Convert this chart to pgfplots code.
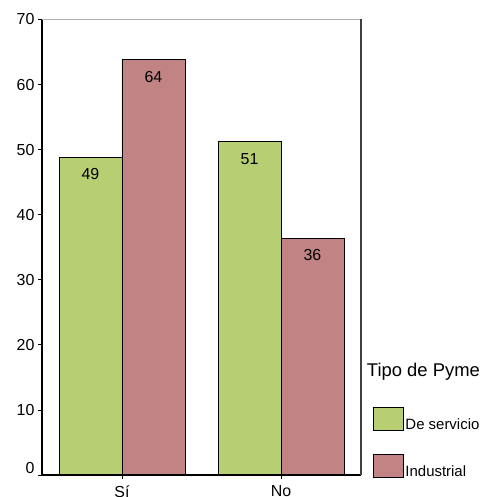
\documentclass[border=0pt]{standalone}
\usepackage{pgfplots}
\pgfplotsset{compat=1.18}
\usepackage{fontspec}
\setmainfont{Liberation Sans}
\definecolor{grn}{RGB}{184,206,115}
\definecolor{rd}{RGB}{193,131,131}
\begin{document}
\begin{tikzpicture}
\begin{axis}[
  scale only axis, width=319bp, height=455.5bp,
  at={(0,0)}, anchor=south west,
  xmin=-0.503, xmax=1.503, ymin=0, ymax=70,
  ybar=0pt, bar width=0.396,
  xtick={0,1}, xticklabels={Sí,No},
  ytick={10,20,...,70},
  extra y ticks={0}, extra y tick style={yticklabel style={yshift=7bp}},
  /pgf/number format/assume math mode=true,
  tick label style={font=\fontsize{16}{19}\selectfont, black},
  xticklabel style={yshift=-3bp},
  tick align=outside, tick pos=left, major tick length=4bp,
  tick style={black, line width=0.8bp},
  axis line style={draw=none},
  clip=false,
  point meta=explicit symbolic,
  nodes near coords,
  every node near coord/.append style={anchor=center, yshift=-17bp, font=\fontsize{16}{19}\selectfont, black},
  legend image code/.code={\draw[#1] (0bp,-5.5bp) rectangle (30bp,17.5bp);},
  legend style={at={(rel axis cs:1.0376,0.1493)}, anchor=north west, draw=none, fill=none,
    font=\fontsize{15}{18}\selectfont, row sep=23bp, inner sep=0pt,
    nodes={inner xsep=1.5bp, inner ysep=0pt}},
  legend cell align=left,
]
\addplot[fill=grn, draw=black, line width=0.8bp] coordinates {(0,48.8) [49] (1,51.2) [51]};
\addplot[fill=rd, draw=black, line width=0.8bp] coordinates {(0,63.8) [64] (1,36.4) [36]};
\legend{De servicio, Industrial}
\draw[black, line width=1.2bp] (rel axis cs:0,1) -- (rel axis cs:0,0) -- (rel axis cs:1,0);
\draw[black!30, line width=1bp] (rel axis cs:0,1) -- (rel axis cs:1,1);
\draw[black!75, line width=1.2bp] (rel axis cs:1,1) -- (rel axis cs:1,0);
\node[anchor=base west, font=\fontsize{18.5}{22}\selectfont, inner sep=0pt] at (rel axis cs:1.018,0.2173) {Tipo de Pyme};
\end{axis}
\pgfresetboundingbox
\path[use as bounding box] (-42bp,-22bp) rectangle (443bp,475bp);
\end{tikzpicture}
\end{document}
